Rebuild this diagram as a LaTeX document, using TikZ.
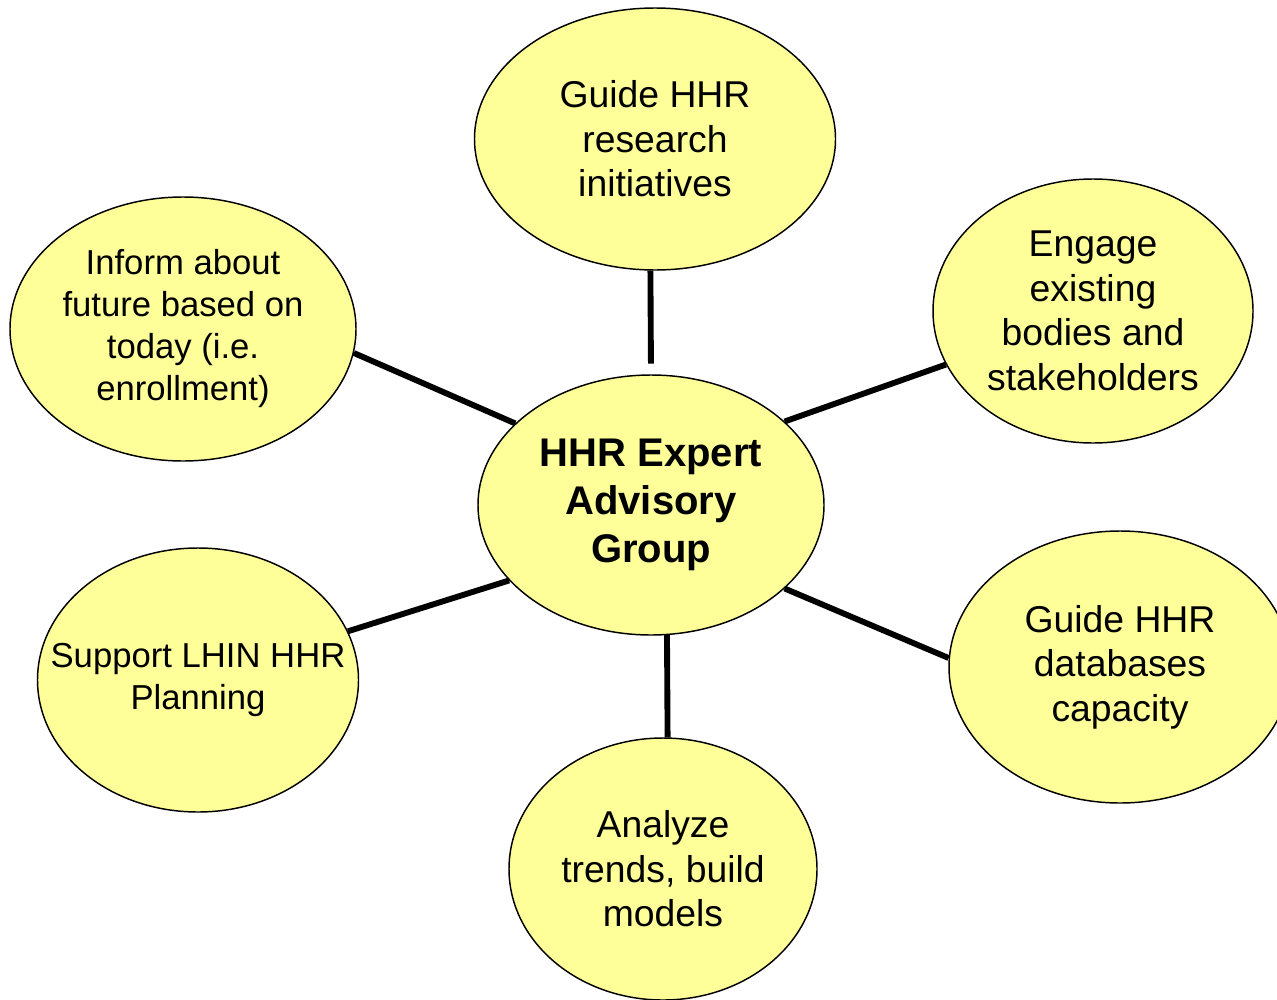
\documentclass[tikz,border=0pt]{standalone}
\usepackage{fontspec}
\setmainfont{Liberation Sans}
\usetikzlibrary{shapes.geometric}
\definecolor{bubblefill}{RGB}{255,255,153}

\begin{document}
\begin{tikzpicture}[x=0.75pt, y=-0.75pt,
    bubble/.style={ellipse, draw, line width=1.1pt, fill=bubblefill, inner sep=-30pt, align=center,
        font=\fontsize{28}{33.4}\selectfont},
    smalltext/.style={font=\fontsize{26}{31.5}\selectfont},
    link/.style={line width=4.4pt}]
    \useasboundingbox (0, 0) rectangle (1277, 999);

    % centre
    \node [bubble, minimum width=259.5pt, minimum height=195pt, font=\fontsize{30}{36}\selectfont\bfseries]
        (advisory) at (651, 505) {HHR Expert\\Advisory\\Group};

    % outer bubbles
    \node [bubble, minimum width=270.75pt, minimum height=196.5pt] (research) at (655, 139) {Guide HHR\\research\\initiatives};
    \node [bubble, minimum width=240pt, minimum height=198pt] (engage) at (1093, 311) {Engage\\existing\\bodies and\\stakeholders};
    \node [bubble, minimum width=256.5pt, minimum height=204pt] (databases) at (1120, 667) {Guide HHR\\databases\\capacity};
    \node [bubble, minimum width=231pt, minimum height=196.5pt] (analyze) at (663, 869) {Analyze\\trends, build\\models};
    \node [bubble, smalltext, minimum width=240.75pt, minimum height=198pt] (support) at (198, 680) {Support LHIN HHR\\Planning};
    \node [bubble, smalltext, minimum width=259.5pt, minimum height=198pt] (inform) at (183, 329) {Inform about\\future based on\\today (i.e.\\enrollment)};

    % spokes
    \draw [link, shorten >=8pt] (research.-92) -- (advisory.90);
    \draw [link] (engage.-160.5) -- (advisory.32.2);
    \draw [link] (databases.177.3) -- (advisory.-32.8);
    \draw [link] (analyze.88.7) -- (advisory.-83.4);
    \draw [link] (support.18.2) -- (advisory.-152);
    \draw [link] (inform.-8.9) -- (advisory.149.1);
\end{tikzpicture}
\end{document}
